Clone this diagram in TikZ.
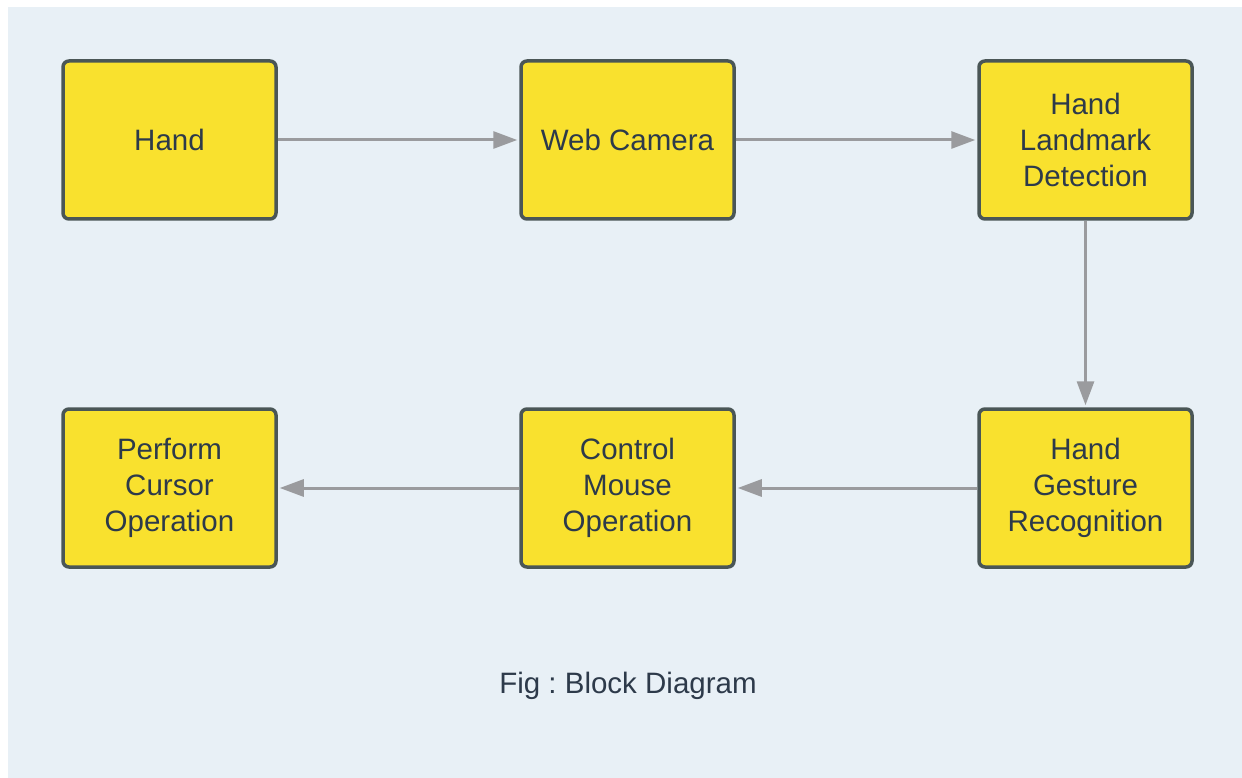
\documentclass[tikz,border=0pt]{standalone}
\usepackage{fontspec}
\setmainfont{Liberation Sans}
\usetikzlibrary{arrows.meta}
\definecolor{bgc}{HTML}{E8F0F6}
\definecolor{boxfill}{HTML}{F9E12E}
\definecolor{boxline}{HTML}{4A5656}
\definecolor{txt}{HTML}{2D3A4A}
\definecolor{arr}{HTML}{9A9B9E}
\frenchspacing
\tikzset{
  block/.style={draw=boxline, fill=boxfill, line width=3.5pt, rounded corners=6pt,
    minimum width=213pt, minimum height=158pt, align=center, text=txt,
    font=\fontsize{29.5}{36}\selectfont, inner sep=0pt},
  flow/.style={draw=arr, line width=3pt, -{Triangle[length=24pt,width=17pt]}, shorten >=2pt},
  caption/.style={text=txt, font=\fontsize{29.5}{36}\selectfont, inner sep=0pt}
}
\begin{document}
\begin{tikzpicture}[x=1pt,y=-1pt]
\useasboundingbox (0,0) rectangle (1242,778);
\fill[white] (0,0) rectangle (1242,778);
\fill[bgc] (8,7) rectangle (1242,778);
\node[block] (hand) at (169.5,140) {Hand};
\node[block] (cam) at (627.5,140) {Web Camera};
\node[block] (land) at (1085.5,140) {Hand\\Landmark\\Detection};
\node[block] (gest) at (1085.5,488) {Hand\\Gesture\\Recognition};
\node[block] (mouse) at (627.5,488) {Control\\Mouse\\Operation};
\node[block] (cursor) at (169.5,488) {Perform\\Cursor\\Operation};
\node[caption] (cap) at (628,686) {\frenchspacing Fig : Block Diagram};
\draw[flow] (hand) -- (cam);
\draw[flow] (cam) -- (land);
\draw[flow] (land) -- (gest);
\draw[flow] (gest) -- (mouse);
\draw[flow] (mouse) -- (cursor);
\end{tikzpicture}
\end{document}
